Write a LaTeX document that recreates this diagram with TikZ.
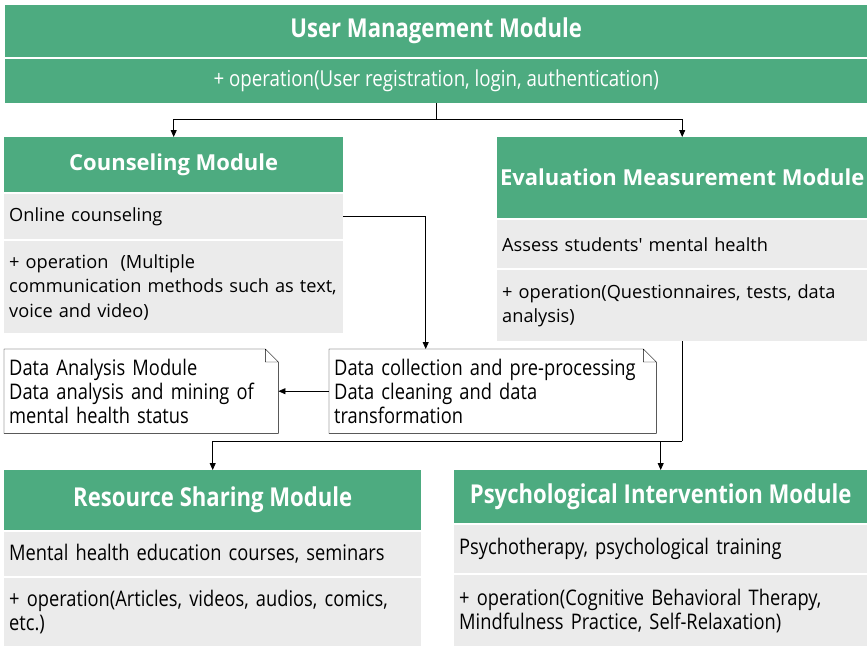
\documentclass[tikz,border=0pt]{standalone}
\usepackage{fontspec}
\setmainfont{Open Sans}
\newfontfamily\narrowfont[FakeStretch=0.85]{Open Sans}
\usepackage{xcolor}
\usetikzlibrary{arrows.meta,positioning}

\definecolor{hdrgreen}{HTML}{4DAB80}
\definecolor{rowgray}{HTML}{EBEBEB}

\begin{document}
\begin{tikzpicture}[
  x=1pt, y=-1pt,
  font=\fontsize{18.2}{24.5}\selectfont,
  hdr/.style={fill=hdrgreen, text=white, font=\fontsize{22}{26}\selectfont\bfseries, anchor=north west, inner sep=0pt},
  narrowhdr/.style={hdr, font=\narrowfont\fontsize{26}{28}\selectfont\bfseries},
  row/.style={fill=rowgray, anchor=north west, align=left, inner xsep=5pt, inner ysep=0pt},
  note/.style={anchor=north west, align=left, inner xsep=5pt, inner ysep=0pt},
  narrow/.style={font=\narrowfont\fontsize{21.5}{24}\selectfont},
  arr/.style={-{Triangle[length=7pt,width=6pt]}, thick}
]
  \useasboundingbox (0,0) rectangle (867,646);

  % top module
  \node[narrowhdr, minimum width=862pt, minimum height=52pt] (um) at (5,5) {User Management Module};
  \node[hdr, minimum width=862pt, minimum height=44pt, font=\narrowfont\fontsize{22}{24}\selectfont] (umops) at (5,59) {+ operation(User registration, login, authentication)};

  % second level
  \node[hdr, minimum width=339pt, minimum height=55pt] (cons) at (4,137) {Counseling Module};
  \node[row, text width=329pt, minimum height=45pt] (consdesc) at (4,194) {Online counseling};
  \node[row, text width=333pt, inner xsep=3pt, minimum height=92pt] (consops) at (4,241) {\hspace*{2pt}+ operation\ \ (Multiple\\\hspace*{2pt}communication methods such as text,\\\hspace*{2pt}voice and video)};

  \node[hdr, minimum width=370pt, minimum height=81pt] (eval) at (497,137) {Evaluation Measurement Module};
  \node[row, text width=360pt, minimum height=48pt] (evaldesc) at (497,220) {Assess students\textquotesingle{} mental health};
  \node[row, text width=360pt, minimum height=71pt] (evalops) at (497,270) {+ operation(Questionnaires, tests, data\\analysis)};

  % data notes
  \node[note, narrow, text width=264pt, minimum height=84pt] (ana) at (4,349) {Data Analysis Module\\Data analysis and mining of\\mental health status};
  \node[note, narrow, text width=317pt, minimum height=84pt] (pre) at (329,349) {Data collection and pre-processing\\Data cleaning and data\\transformation};
  \foreach \n in {ana,pre}
    \draw (\n.north west) -- ([xshift=-13pt]\n.north east) -- ([yshift=-13pt]\n.north east)
      -- (\n.south east) -- (\n.south west) -- cycle
      ([xshift=-13pt]\n.north east) |- ([yshift=-13pt]\n.north east);

  % bottom level
  \node[narrowhdr, minimum width=417pt, minimum height=60pt] (res) at (4,470) {Resource Sharing Module};
  \node[row, narrow, text width=407pt, minimum height=44pt] (resdesc) at (4,532) {Mental health education courses, seminars};
  \node[row, narrow, text width=407pt, minimum height=68pt] (resops) at (4,578) {+ operation(Articles, videos, audios, comics,\\etc.)};

  \node[narrowhdr, minimum width=413pt, minimum height=53pt] (psy) at (454,470) {Psychological Intervention Module};
  \node[row, narrow, text width=403pt, minimum height=48pt] (psydesc) at (454,525) {Psychotherapy, psychological training};
  \node[row, narrow, text width=403pt, minimum height=71pt] (psyops) at (454,575) {+ operation(Cognitive Behavioral Therapy,\\Mindfulness Practice, Self-Relaxation)};

  % connectors
  \draw (umops.south) -- ++(0,16) coordinate (j1);
  \draw[arr] (j1) -| (cons.north);
  \draw[arr] (j1) -| (eval.north);
  \draw[arr] (consdesc.east) -| ([xshift=-67pt]pre.north);
  \draw[arr] (pre.west) -- (ana.east);
  \draw (evalops.south) -- ++(0,100) coordinate (j2);
  \draw[arr] (j2) -| (res.north);
  \draw[arr] (j2) -| (psy.north);
\end{tikzpicture}
\end{document}
